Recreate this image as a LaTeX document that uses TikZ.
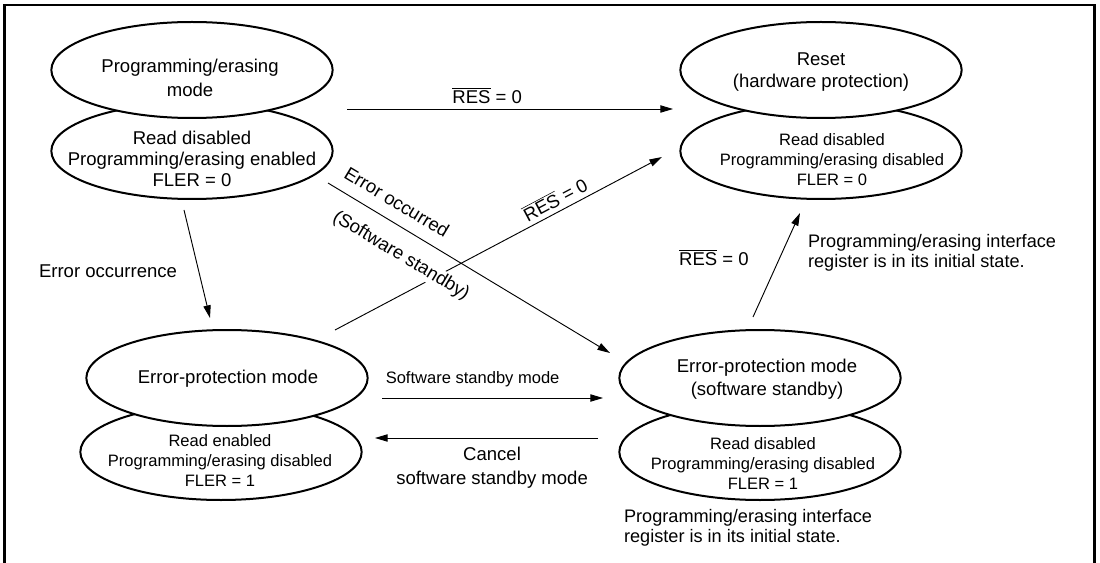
\documentclass[tikz,border=0pt]{standalone}
\usepackage{fontspec}
\setmainfont{Liberation Sans}
\usetikzlibrary{arrows.meta,shapes.geometric}

\newcommand{\resbar}{\(\overline{\mbox{RES}}\)}

\tikzset{
  statebox/.style={ellipse, draw, line width=1.5pt, fill=white,
    minimum width=211pt, minimum height=72pt, inner sep=0pt},
  txt/.style={align=center, inner sep=1pt, font=\fontsize{13.9pt}{16pt}\selectfont},
  smalltxt/.style={align=center, inner sep=1pt, font=\fontsize{12.4pt}{15pt}\selectfont},
  note/.style={align=left, anchor=west, inner sep=1pt, font=\fontsize{13.6pt}{14.8pt}\selectfont},
  edgearrow/.style={-{Triangle[length=9.5pt,width=5.5pt]}, line width=0.7pt},
}

\begin{document}
\begin{tikzpicture}[x=0.75pt,y=-0.75pt]
  \useasboundingbox (0,0) rectangle (1100,563);
  % frame, open at the bottom
  \draw[line width=2pt] (4.5,563) -- (4.5,5) -- (1094.5,5) -- (1094.5,563);

  % programming/erasing mode
  \node[statebox] (peinfo) at (192,151) {};
  \node[statebox] (pe) at (192,70) {};
  \node[txt] (petext) at (190,78) {Programming/erasing\\[1.5pt]mode};
  \node[txt] (peinfotext) at (192,159) {Read disabled\\Programming/erasing enabled\\FLER = 0};

  % reset
  \node[statebox] (resetinfo) at (821,151) {};
  \node[statebox] (reset) at (821,70) {};
  \node[txt] (resettext) at (821,72) {Reset\\(hardware protection)};
  \node[smalltxt] (resetinfotext) at (832,160) {Read disabled\\Programming/erasing disabled\\FLER = 0};

  % error protection
  \node[statebox] (epinfo) at (221,452) {};
  \node[statebox] (ep) at (227,378) {};
  \node[txt] (eptext) at (228,379) {Error-protection mode};
  \node[smalltxt] (epinfotext) at (220,461) {Read enabled\\Programming/erasing disabled\\FLER = 1};

  % error protection (software standby)
  \node[statebox] (epsinfo) at (760,452) {};
  \node[statebox] (eps) at (760,378) {};
  \node[txt] (epstext) at (767,379) {Error-protection mode\\[1.5pt](software standby)};
  \node[smalltxt] (epsinfotext) at (763,464) {Read disabled\\Programming/erasing disabled\\FLER = 1};
  \node[note] (epsnote) at (622.5,527.5) {Programming/erasing interface\\register is in its initial state.};

  % arrow ends
  \coordinate (peout) at (347,109);
  \coordinate (resetin) at (673,109);
  \coordinate (pedown) at (184,210);
  \coordinate (epin) at (210,318);
  \coordinate (pecross) at (328,183);
  \coordinate (epsin) at (610,353);
  \coordinate (epout) at (335,330);
  \coordinate (resetin2) at (662,157);
  \coordinate (epright) at (382,398);
  \coordinate (epsleft) at (603,398);
  \coordinate (epsback) at (598,438);
  \coordinate (epback) at (375,438);
  \coordinate (epsup) at (753,317);
  \coordinate (resetin3) at (800,213);

  % transitions
  \draw[edgearrow] (peout) -- node[txt, pos=0.43, above=3pt] (reslbl) {\resbar{} = 0} (resetin);
  \draw[edgearrow] (pedown) -- node[txt, pos=0.57, left=15pt] (errlbl) {Error occurrence} (epin);

  \draw[edgearrow] (epout) -- (resetin2);
  \node[txt, rotate=28] (reslbl2) at (555,199) {\resbar{} = 0};
  \node[txt, rotate=-31] (occlbl) at (397,202) {Error occurred};
  \node[txt, rotate=-31, fill=white] (sstbylbl) at (401,256) {(Software standby)};
  \draw[edgearrow] (pecross) -- (epsin);

  \draw[edgearrow] (epright) -- node[smalltxt, pos=0.41, above=7pt] (sstbymode) {Software standby mode} (epsleft);
  \draw[edgearrow] (epsback) -- node[txt, pos=0.475, below=5.4pt] (cancel) {Cancel\\[2pt]software standby mode} (epback);
  \draw[edgearrow] (epsup) -- node[txt, pos=0.57, left=22pt] (reslbl3) {\resbar{} = 0} (resetin3);
  \node[note] (resetnote) at (806.5,253) {Programming/erasing interface\\register is in its initial state.};
\end{tikzpicture}
\end{document}
